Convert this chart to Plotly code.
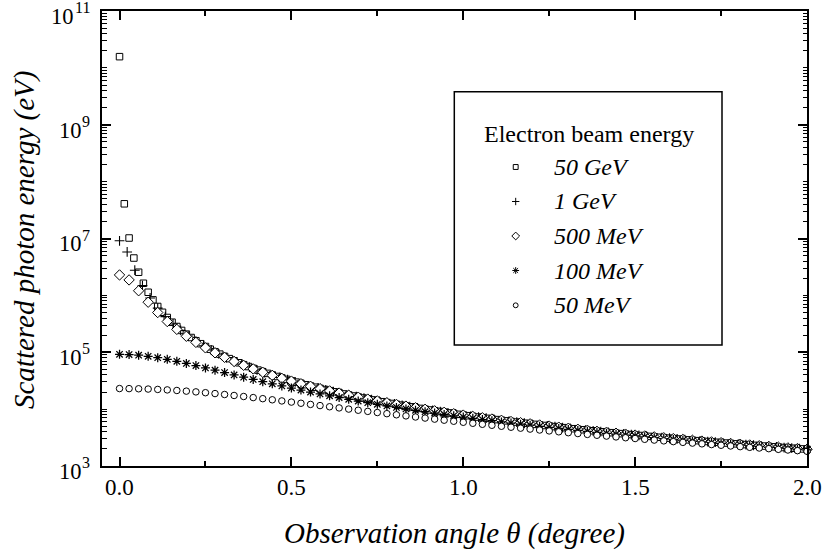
import plotly.graph_objects as go

# ---------------- data ----------------
# observation angles (degree) for the three sampling grids used in the figure
angle_fine = [
    0.0, 0.0139, 0.0278, 0.0417, 0.0556, 0.0694, 0.0833, 0.0972, 0.1111, 0.125, 0.1389, 0.1528,
    0.1667, 0.1806, 0.1944, 0.2083, 0.2222, 0.2361, 0.25, 0.2639, 0.2778, 0.2917, 0.3056, 0.3194,
    0.3333, 0.3472, 0.3611, 0.375, 0.3889, 0.4028, 0.4167, 0.4306, 0.4444, 0.4583, 0.4722, 0.4861,
    0.5, 0.5139, 0.5278, 0.5417, 0.5556, 0.5694, 0.5833, 0.5972, 0.6111, 0.625, 0.6389, 0.6528,
    0.6667, 0.6806, 0.6944, 0.7083, 0.7222, 0.7361, 0.75, 0.7639, 0.7778, 0.7917, 0.8056, 0.8194,
    0.8333, 0.8472, 0.8611, 0.875, 0.8889, 0.9028, 0.9167, 0.9306, 0.9444, 0.9583, 0.9722, 0.9861,
    1.0, 1.0139, 1.0278, 1.0417, 1.0556, 1.0694, 1.0833, 1.0972, 1.1111, 1.125, 1.1389, 1.1528,
    1.1667, 1.1806, 1.1944, 1.2083, 1.2222, 1.2361, 1.25, 1.2639, 1.2778, 1.2917, 1.3056, 1.3194,
    1.3333, 1.3472, 1.3611, 1.375, 1.3889, 1.4028, 1.4167, 1.4306, 1.4444, 1.4583, 1.4722, 1.4861,
    1.5, 1.5139, 1.5278, 1.5417, 1.5556, 1.5694, 1.5833, 1.5972, 1.6111, 1.625, 1.6389, 1.6528,
    1.6667, 1.6806, 1.6944, 1.7083, 1.7222, 1.7361, 1.75, 1.7639, 1.7778, 1.7917, 1.8056, 1.8194,
    1.8333, 1.8472, 1.8611, 1.875, 1.8889, 1.9028, 1.9167, 1.9306, 1.9444, 1.9583, 1.9722, 1.9861,
    2.0,
]
angle_mid = [
    0.0, 0.0222, 0.0444, 0.0667, 0.0889, 0.1111, 0.1333, 0.1556, 0.1778, 0.2, 0.2222, 0.2444,
    0.2667, 0.2889, 0.3111, 0.3333, 0.3556, 0.3778, 0.4, 0.4222, 0.4444, 0.4667, 0.4889, 0.5111,
    0.5333, 0.5556, 0.5778, 0.6, 0.6222, 0.6444, 0.6667, 0.6889, 0.7111, 0.7333, 0.7556, 0.7778,
    0.8, 0.8222, 0.8444, 0.8667, 0.8889, 0.9111, 0.9333, 0.9556, 0.9778, 1.0, 1.0222, 1.0444,
    1.0667, 1.0889, 1.1111, 1.1333, 1.1556, 1.1778, 1.2, 1.2222, 1.2444, 1.2667, 1.2889, 1.3111,
    1.3333, 1.3556, 1.3778, 1.4, 1.4222, 1.4444, 1.4667, 1.4889, 1.5111, 1.5333, 1.5556, 1.5778,
    1.6, 1.6222, 1.6444, 1.6667, 1.6889, 1.7111, 1.7333, 1.7556, 1.7778, 1.8, 1.8222, 1.8444,
    1.8667, 1.8889, 1.9111, 1.9333, 1.9556, 1.9778, 2.0,
]
angle_coarse = [
    0.0, 0.0278, 0.0556, 0.0833, 0.1111, 0.1389, 0.1667, 0.1944, 0.2222, 0.25, 0.2778, 0.3056,
    0.3333, 0.3611, 0.3889, 0.4167, 0.4444, 0.4722, 0.5, 0.5278, 0.5556, 0.5833, 0.6111, 0.6389,
    0.6667, 0.6944, 0.7222, 0.75, 0.7778, 0.8056, 0.8333, 0.8611, 0.8889, 0.9167, 0.9444, 0.9722,
    1.0, 1.0278, 1.0556, 1.0833, 1.1111, 1.1389, 1.1667, 1.1944, 1.2222, 1.25, 1.2778, 1.3056,
    1.3333, 1.3611, 1.3889, 1.4167, 1.4444, 1.4722, 1.5, 1.5278, 1.5556, 1.5833, 1.6111, 1.6389,
    1.6667, 1.6944, 1.7222, 1.75, 1.7778, 1.8056, 1.8333, 1.8611, 1.8889, 1.9167, 1.9444, 1.9722,
    2.0,
]

# scattered photon energy (eV)
energy_50GeV = [
    1.5743e10, 4.0738e7, 1.0204e7, 4.5369e6, 2.5523e6, 1.6338e6, 1.1346e6, 8.3355e5, 6.3819e5,
    5.0425e5, 4.0844e5, 3.3755e5, 2.8364e5, 2.4168e5, 2.0839e5, 1.8153e5, 1.5955e5, 1.4133e5,
    1.2606e5, 1.1314e5, 1.0211e5,
    92617, 84388, 77210, 70910, 65350, 60420, 56028, 52097, 48566, 45382,
    42502, 39887, 37506, 35332, 33342, 31515, 29835, 28285, 26853, 25528,
    24297, 23154, 22090, 21097, 20170, 19302, 18490, 17727, 17011, 16338,
    15703, 15105, 14540, 14007, 13502, 13024, 12571, 12142, 11733, 11346,
    10977, 10625, 10291, 9972, 9667, 9377, 9099, 8833, 8579, 8336,
    8102, 7879, 7665, 7459, 7261, 7071, 6889, 6713, 6544, 6382,
    6225, 6074, 5929, 5789, 5653, 5523, 5396, 5274, 5156, 5042,
    4932, 4826, 4722, 4622, 4526, 4432, 4341, 4253, 4167, 4084,
    4004, 3926, 3850, 3776, 3705, 3635, 3567, 3502, 3438, 3376,
    3315, 3256, 3199, 3143, 3088, 3035, 2984, 2933, 2884, 2836,
    2790, 2744, 2700, 2656, 2614, 2573, 2532, 2493, 2454, 2417,
    2380, 2344, 2309, 2275, 2241, 2208, 2176, 2145, 2114, 2084,
    2054, 2026, 1997, 1970,
]
energy_1GeV = [
    9.1071e6, 5.7977e6, 2.7738e6, 1.4839e6, 8.9875e5, 5.9640e5, 4.2262e5, 3.1436e5, 2.4265e5,
    1.9280e5, 1.5680e5, 1.2997e5, 1.0946e5,
    93437, 80680, 70361, 61899, 54874, 48978, 43982, 39713, 36035, 32845,
    30060, 27615, 25456, 23540, 21833, 20305, 18932, 17693, 16572, 15554,
    14627, 13781, 13006, 12294, 11639, 11035, 10478, 9961, 9481, 9035,
    8621, 8233, 7872, 7534, 7217, 6919, 6640, 6377, 6130, 5896,
    5676, 5468, 5271, 5085, 4908, 4740, 4581, 4430, 4286, 4149,
    4018, 3893, 3775, 3661, 3553, 3449, 3350, 3255, 3164, 3077,
    2993, 2913, 2835, 2761, 2690, 2622, 2556, 2492, 2431, 2372,
    2315, 2261, 2208, 2157, 2107, 2060, 2014, 1969,
]
energy_500MeV = [
    2.2873e6, 1.8687e6, 1.2064e6, 7.5838e5, 4.9897e5, 3.4656e5, 2.5235e5, 1.9099e5, 1.4914e5,
    1.1948e5,
    97747, 81386, 68778, 58866, 50937, 44499, 39204, 34795, 31087, 27940,
    25246, 22922, 20904, 19141, 17591, 16222, 15006, 13922, 12951, 12077,
    11290, 10576, 9928, 9338, 8799, 8305, 7852, 7435, 7050, 6694,
    6364, 6058, 5774, 5509, 5262, 5031, 4815, 4613, 4423, 4245,
    4077, 3919, 3770, 3629, 3496, 3371, 3251, 3139, 3031, 2930,
    2833, 2741, 2653, 2570, 2490, 2414, 2342, 2272, 2206, 2143,
    2082, 2024, 1968,
]
energy_100MeV = [
    91817, 91000, 88630, 84943, 80267, 74964, 69362, 63733, 58276, 53121,
    48343, 43971, 40007, 36438, 33235, 30368, 27805, 25512, 23460, 21622,
    19972, 18489, 17154, 15948, 14857, 13868, 12970, 12152, 11405, 10722,
    10097, 9522, 8994, 8507, 8057, 7641, 7255, 6898, 6565, 6255,
    5966, 5697, 5445, 5209, 4987, 4779, 4584, 4400, 4227, 4064,
    3910, 3764, 3627, 3496, 3373, 3255, 3144, 3038, 2938, 2842,
    2751, 2664, 2581, 2502, 2427, 2355, 2286, 2219, 2156, 2096,
    2037, 1982, 1928,
]
energy_50MeV = [
    23000, 22948, 22795, 22543, 22201, 21775, 21276, 20716, 20104, 19454,
    18775, 18078, 17371, 16663, 15960, 15269, 14593, 13937, 13302, 12691,
    12105, 11544, 11009, 10500, 10017, 9558, 9123, 8711, 8321, 7952,
    7603, 7273, 6961, 6666, 6386, 6123, 5873, 5636, 5412, 5200,
    4999, 4809, 4628, 4457, 4294, 4139, 3992, 3852, 3719, 3592,
    3471, 3356, 3246, 3142, 3042, 2946, 2855, 2767, 2684, 2604,
    2527, 2454, 2383, 2316, 2251, 2189, 2129, 2072, 2017, 1964,
    1912, 1863, 1816,
]

series_names = ["50 GeV", "1 GeV", "500 MeV", "100 MeV", "50 MeV"]
legend_title = "Electron beam energy"
x_title = "Observation angle θ (degree)"
y_title = "Scattered photon energy (eV)"
x_tick_vals = [0.0, 0.5, 1.0, 1.5, 2.0]
x_tick_text = ["0.0", "0.5", "1.0", "1.5", "2.0"]
y_tick_exponents = [3, 5, 7, 9, 11]

# ---------------- layout geometry ----------------
W, H = 824, 554
ML, MR, MT, MB = 102, 17, 11, 88
PW, PH = W - ML - MR, H - MT - MB
FONT = "Liberation Serif, Times New Roman, Times, serif"
Y_LO, Y_HI = 3, 11


def px2x(px):
    return (px - ML) / PW


def px2y(py):
    return (H - MB - py) / PH


def logy2px(e):
    return (H - MB) - (e - Y_LO) / (Y_HI - Y_LO) * PH


styles = {
    "50 GeV": dict(symbol="square", size=6.5, color="white", lw=1),
    "1 GeV": dict(symbol="cross-thin-open", size=7, color="black", lw=1.1),
    "500 MeV": dict(symbol="diamond", size=8, color="white", lw=1),
    "100 MeV": dict(symbol="asterisk-open", size=7.5, color="black", lw=1.25),
    "50 MeV": dict(symbol="circle", size=6.5, color="white", lw=1),
}
xs = [angle_fine, angle_mid, angle_coarse, angle_coarse, angle_coarse]
ys = [energy_50GeV, energy_1GeV, energy_500MeV, energy_100MeV, energy_50MeV]

fig = go.Figure()
for name, x, y in zip(series_names, xs, ys):
    st = styles[name]
    fig.add_trace(go.Scatter(
        x=x, y=y, mode="markers", name=name, showlegend=False, cliponaxis=False,
        marker=dict(symbol=st["symbol"], size=st["size"], color=st["color"],
                    line=dict(color="black", width=st["lw"])),
    ))

# ---- hand-built legend (box, title, symbols, labels) ----
box = dict(x0=454.3, y0=91.7, x1=722, y1=345)
leg_sym_x = 515.7
leg_text_x = 553.3
leg_title_y = 134.2
leg_rows_y = [167.0, 201.5, 236.0, 270.5, 305.3]

for name, ry in zip(series_names, leg_rows_y):
    st = styles[name]
    fig.add_trace(go.Scatter(
        x=[px2x(leg_sym_x)], y=[px2y(ry)], xaxis="x2", yaxis="y2", mode="markers",
        showlegend=False, hoverinfo="skip",
        marker=dict(symbol=st["symbol"], size=st["size"] * 0.75, color=st["color"],
                    line=dict(color="black", width=1)),
    ))


def txt(text, x, y, size, xanchor="center", yanchor="middle", angle=0):
    return dict(text=text, x=x, y=y, xref="paper", yref="paper", xanchor=xanchor,
                yanchor=yanchor, textangle=angle, showarrow=False, borderpad=0,
                font=dict(size=size, family=FONT, color="black"))


annotations = [
    txt(legend_title, px2x(483.3), px2y(leg_title_y), 24, xanchor="left"),
    txt("<i>" + x_title + "</i>", px2x(454), px2y(533), 29),
    txt("<i>" + y_title + "</i>", px2x(24), px2y(240), 29, angle=-90),
]
for name, ry in zip(series_names, leg_rows_y):
    annotations.append(txt("<i>" + name + "</i>", px2x(leg_text_x), px2y(ry), 24, xanchor="left"))

# x tick labels
for v, t in zip(x_tick_vals, x_tick_text):
    annotations.append(dict(text=t, x=v, y=px2y(487.5), xref="x", yref="paper",
                            xanchor="center", yanchor="middle", showarrow=False, borderpad=0,
                            font=dict(size=23, family=FONT, color="black")))

# y tick labels: "10" with a raised exponent
EXP_SIZE = 16
for e in y_tick_exponents:
    ty = logy2px(e)
    s = str(e)
    exp_w = 0.5 * EXP_SIZE * len(s)
    annotations.append(txt(s, px2x(91), px2y(ty - 3.5), EXP_SIZE, xanchor="right"))
    annotations.append(txt("10", px2x(91 - exp_w), px2y(ty + 5.5), 22.5, xanchor="right"))

shapes = [dict(type="rect", xref="paper", yref="paper",
               x0=px2x(box["x0"]), x1=px2x(box["x1"]), y0=px2y(box["y1"]), y1=px2y(box["y0"]),
               line=dict(color="black", width=1.5), fillcolor="rgba(0,0,0,0)")]

y_major = [10 ** e for e in y_tick_exponents]
y_minor = []
for e in range(3, 11):
    for m in range(2, 10):
        y_minor.append(m * 10 ** e)
    if e % 2 == 0:
        y_minor.append(10 ** e)

axis_common = dict(showline=True, linewidth=2, linecolor="black", mirror="allticks",
                   ticks="inside", tickwidth=1.5, tickcolor="black", showgrid=False,
                   zeroline=False, showticklabels=False, automargin=False)

fig.update_layout(
    width=W, height=H,
    margin=dict(l=ML, r=MR, t=MT, b=MB, pad=0, autoexpand=False),
    paper_bgcolor="white", plot_bgcolor="white",
    font=dict(family=FONT, color="black"),
    xaxis=dict(range=[-0.051, 2.0], tickmode="array", tickvals=x_tick_vals,
               ticklen=9, minor=dict(tickmode="array", tickvals=[0.25, 0.75, 1.25, 1.75],
                                     ticks="inside", ticklen=5, tickwidth=1.5, tickcolor="black"),
               **axis_common),
    yaxis=dict(type="log", range=[Y_LO, Y_HI], tickmode="array", tickvals=y_major,
               ticklen=9,
               minor=dict(tickmode="array", tickvals=y_minor, ticks="inside", ticklen=4.5,
                          tickwidth=1.2, tickcolor="black"),
               **axis_common),
    xaxis2=dict(overlaying="x", range=[0, 1], visible=False, automargin=False),
    yaxis2=dict(overlaying="y", range=[0, 1], visible=False, automargin=False),
    annotations=annotations,
    shapes=shapes,
    showlegend=False,
)

fig.write_html("out.html")
